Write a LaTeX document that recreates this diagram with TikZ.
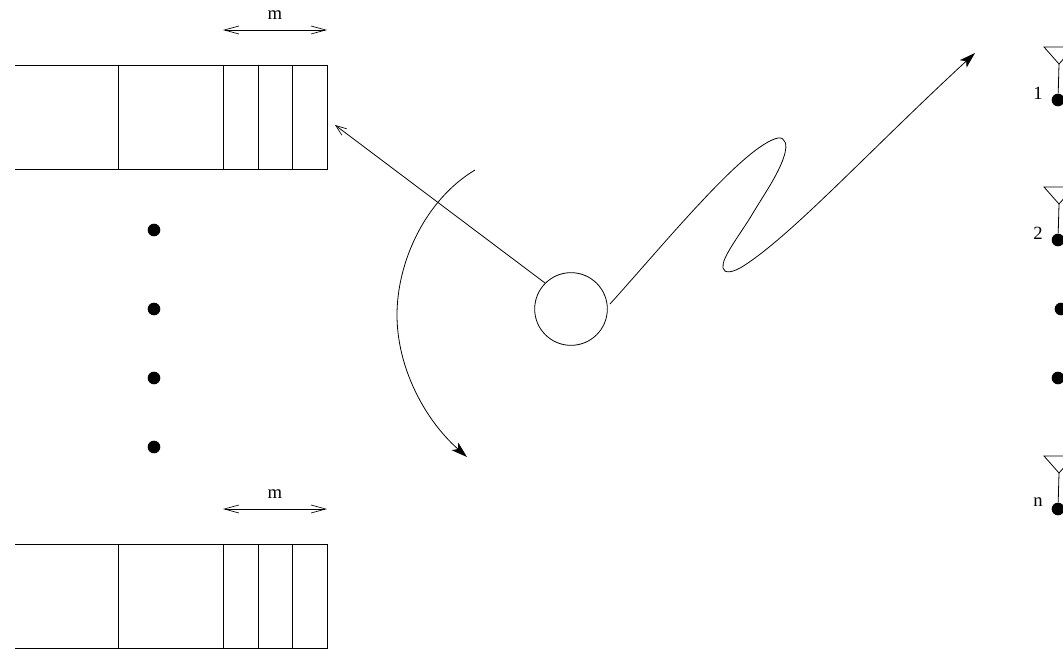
\documentclass[tikz,border=0pt]{standalone}
\usepackage{fontspec}
\setmainfont{Liberation Serif}
\usetikzlibrary{arrows.meta}
\tikzset{
  x=0.75pt,y=-0.75pt,
  ln/.style={draw=black,line width=0.6pt},
  bigdot/.style={circle,fill=black,draw=none,minimum size=9.5pt,inner sep=0pt},
  lab/.style={inner sep=0pt,font=\fontsize{14pt}{15pt}\selectfont},
  open/.style={-{Straight Barb[length=8pt,width=6pt,line width=0.5pt]}},
  dbl/.style={{Straight Barb[length=11pt,width=6pt,line width=0.5pt]}-{Straight Barb[length=11pt,width=6pt,line width=0.5pt]}},
  solidtip/.style={-{Stealth[length=12pt,width=7.5pt,inset=3pt]}},
}
\newcommand{\queue}[2]{%
  \draw[ln] (15,#1) -- (327,#1) -- (327,#1+104) -- (15,#1+104);
  \foreach \xx in {118,223,258,292} \draw[ln] (\xx,#1) -- (\xx,#1+104);
}
\newcommand{\antenna}[3]{%
  \node[bigdot] (#3dot) at (1058,#1+53) {};
  \coordinate (#3apex) at (1059,#1+17);
  \coordinate (#3l) at (1044,#1);
  \coordinate (#3r) at (1074,#1);
  \draw[ln] (#3l) -- (#3r) -- (#3apex) -- cycle;
  \draw[ln] (#3apex) -- (#3dot);
  \node[lab] (#3lab) at (1038,#1+46.5) {#2};
}
\begin{document}
\begin{tikzpicture}
\useasboundingbox (0,0) rectangle (1063,649);
\clip (0,0) rectangle (1063,649);
\queue{65}{a}
\queue{544}{b}
\coordinate (m1l) at (223,30); \coordinate (m1r) at (327,30);
\coordinate (m2l) at (223,509); \coordinate (m2r) at (327,509);
\draw[ln,dbl] (m1l) -- (m1r);
\draw[ln,dbl] (m2l) -- (m2r);
\node[lab] (m1) at (275,15) {m};
\node[lab] (m2) at (275,494) {m};
\foreach \n/\yy in {a/230,b/309,c/378,d/447} \node[bigdot] (q\n) at (154,\yy) {};
\node[circle,draw=black,line width=0.6pt,minimum size=54.5pt,inner sep=0pt] (c) at (571,309) {};
\coordinate (qt) at (335,125);
\coordinate (cl) at (545,283);
\draw[ln,open] (cl) -- (qt);
\coordinate (as) at (475,170);
\coordinate (ae) at (467,457);
\draw[ln,solidtip] (as) .. controls (425,200) and (397,262) .. (397,315) .. controls (397,368) and (425,420) .. (ae);
\coordinate (ws) at (610,304);
\coordinate (we) at (975,53);
\draw[ln,solidtip] (ws) .. controls (665,243) and (745,145) .. (778,138)
  .. controls (786,137) and (787,146) .. (785,153)
  .. controls (780,172) and (765,193) .. (753,213)
  .. controls (740,235) and (721,258) .. (723,268)
  .. controls (724,274) and (733,273) .. (745,265)
  .. controls (795,232) and (870,150) .. (we);
\antenna{47}{1}{a}
\antenna{187}{2}{b}
\antenna{456}{n}{c}
\node[bigdot] (ra) at (1061,309) {};
\node[bigdot] (rb) at (1058,378) {};
\end{tikzpicture}
\end{document}
